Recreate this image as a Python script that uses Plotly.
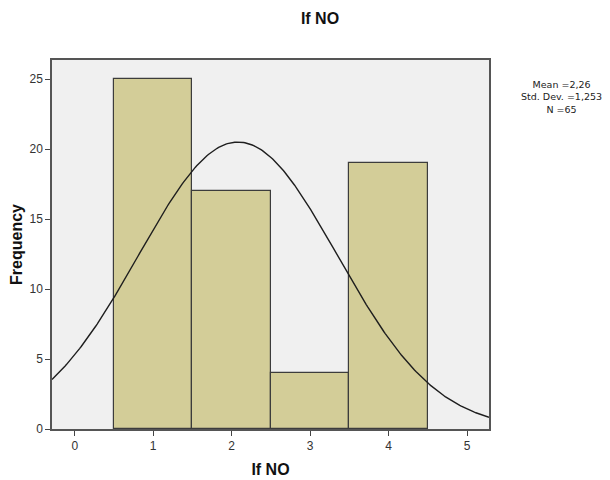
import numpy as np
import plotly.graph_objects as go

# Data
categories = [1, 2, 3, 4]
frequencies = [25, 17, 4, 19]
stat_mean = "2,26"
stat_sd = "1,253"
stat_n = 65
curve_center = 2.08   # centre of the drawn normal curve
curve_sd = 1.265      # spread of the drawn curve
bin_width = 1.0
y_ticks = [0, 5, 10, 15, 20, 25]
x_ticks = [0, 1, 2, 3, 4, 5]

x_range = [-0.29, 5.28]
y_range = [0, 26.36]

xs = np.linspace(x_range[0], x_range[1], 300)
ys = stat_n * bin_width / (curve_sd * np.sqrt(2 * np.pi)) * np.exp(-0.5 * ((xs - curve_center) / curve_sd) ** 2)

font = "Liberation Sans, Arial, sans-serif"

# page has an 8px body margin; figure coordinates = page - 8
L, T, PW, PH = 44, 52, 437, 369
W, H = 602, 472

fig = go.Figure()
fig.add_trace(go.Bar(
    x=categories, y=frequencies, width=1,
    marker=dict(color="#d3cd98", line=dict(color="#3c3c3c", width=1.2)),
    hoverinfo="x+y", showlegend=False,
))
fig.add_trace(go.Scatter(
    x=xs, y=ys, mode="lines",
    line=dict(color="#1e1e1e", width=1.4),
    showlegend=False, hoverinfo="skip",
))

def px(xp):
    return (xp - 8 - L) / PW

def py(yp):
    return (T + PH - (yp - 8)) / PH

annotations = [
    dict(text=f"Mean ={stat_mean}<br>Std. Dev. ={stat_sd}<br>N ={stat_n}",
         xref="paper", yref="paper", x=px(561), y=py(97),
         xanchor="center", yanchor="middle", showarrow=False, align="center",
         font=dict(family="DejaVu Sans, sans-serif", size=9.5, color="#222222")),
]

fig.update_layout(
    width=W, height=H,
    margin=dict(l=L, r=W - L - PW, t=T, b=H - T - PH, autoexpand=False),
    paper_bgcolor="white",
    plot_bgcolor="#f0f0f0",
    bargap=0,
    font=dict(family=font, size=12, color="#222222"),
    title=dict(text="<b>If NO</b>", x=(320 - 8) / W, xanchor="center",
               y=1 - (18 - 8) / H, yanchor="middle",
               font=dict(family=font, size=16, color="#111111")),
    xaxis=dict(
        automargin=False,
        range=x_range, tickvals=x_ticks, ticks="outside", ticklen=5, tickcolor="#444444",
        showgrid=False, zeroline=False, showline=True, linecolor="#555555", linewidth=1.5,
        mirror=True, tickfont=dict(size=12, color="#333333"),
        title=dict(text="<b>If NO</b>", font=dict(family=font, size=16, color="#111111"), standoff=12),
    ),
    yaxis=dict(
        automargin=False,
        range=y_range, tickvals=y_ticks, ticks="outside", ticklen=5, tickcolor="#444444",
        showgrid=False, zeroline=False, showline=True, linecolor="#555555", linewidth=1.5,
        mirror=True, tickfont=dict(size=12, color="#333333"),
        title=dict(text="<b>Frequency</b>", font=dict(family=font, size=16, color="#111111"), standoff=4),
    ),
    annotations=annotations,
)

fig.write_html("out.html")
